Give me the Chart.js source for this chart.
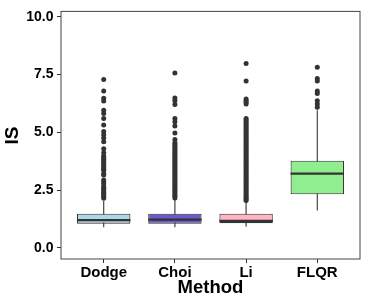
<!DOCTYPE html>
<html>
<head>
<meta charset="utf-8">
<style>
html,body{margin:0;padding:0;background:#fff;}
#wrap{width:366px;height:305px;}
</style>
<script src="https://cdn.jsdelivr.net/npm/chart.js@4/dist/chart.umd.min.js"></script>
</head>
<body>
<div id="wrap"><canvas id="c" width="366" height="305"></canvas></div>
<script>
const categories = ['Dodge', 'Choi', 'Li', 'FLQR'];
const whiskerLow  = [0.89, 0.89, 0.92, 1.62];
const q1          = [1.05, 1.05, 1.07, 2.32];
const medians     = [1.20, 1.22, 1.17, 3.21];
const q3          = [1.48, 1.48, 1.48, 3.77];
const whiskerHigh = [2.03, 2.08, 2.00, 5.95];
const outliersDodge = [7.29, 6.79, 6.47, 6.35, 5.95, 5.81, 5.60, 5.32, 5.04, 4.89, 4.75, 4.59,
  4.29, 4.12, 3.98, 3.91, 3.84, 3.77, 3.70, 3.63, 3.55, 3.48, 3.40, 3.35, 3.21, 3.15,
  2.94, 2.85, 2.77, 2.65, 2.58, 2.50, 2.43, 2.36, 2.29, 2.22, 2.15];
const outliersChoi = [7.57, 6.49, 6.37, 6.20, 5.60, 5.46, 5.27, 4.97, 4.69, 4.55, 4.47, 4.40,
  4.33, 4.26, 4.19, 4.12, 4.05, 3.98, 3.91, 3.84, 3.77, 3.70, 3.63, 3.56, 3.49, 3.42,
  3.35, 3.28, 3.21, 3.14, 3.07, 3.00, 2.93, 2.86, 2.79, 2.72, 2.65, 2.58, 2.51, 2.44,
  2.37, 2.30, 2.23, 2.16];
const outliersLi = [7.98, 7.22, 6.44, 6.37, 6.30, 6.23, 5.60, 5.53, 5.46, 5.39, 5.32, 5.25,
  5.18, 5.11, 5.04, 4.97, 4.90, 4.83, 4.76, 4.69, 4.62, 4.55, 4.48, 4.41, 4.34, 4.27,
  4.20, 4.13, 4.06, 3.99, 3.92, 3.85, 3.78, 3.71, 3.64, 3.57, 3.50, 3.43, 3.36, 3.29,
  3.22, 3.15, 3.08, 3.01, 2.94, 2.87, 2.80, 2.73, 2.66, 2.59, 2.52, 2.45, 2.38, 2.31,
  2.24, 2.17, 2.10, 2.05];
const outliersFLQR = [7.82, 7.33, 7.22, 6.79, 6.68, 6.37, 6.23, 6.09];
const outliers = [outliersDodge, outliersChoi, outliersLi, outliersFLQR];
const yTicks = [0, 2.5, 5, 7.5, 10];
const boxColors = ['#ADD8E6', '#6A5ACD', '#FFB6C1', '#90EE90'];

const BOX_WIDTH = 0.75;
const INK = '#333333';
const FONT = '"Liberation Sans", Arial, Helvetica, sans-serif';

const datasets = [];
// whiskers (drawn first)
categories.forEach((c, i) => {
  datasets.push({
    type: 'line', order: 4,
    data: [{x: i, y: whiskerLow[i]}, {x: i, y: whiskerHigh[i]}],
    borderColor: INK, borderWidth: 1.1, pointRadius: 0, fill: false, tension: 0
  });
});
// boxes
datasets.push({
  type: 'bar', order: 3,
  data: categories.map((c, i) => ({x: i, y: [q1[i], q3[i]]})),
  backgroundColor: boxColors, borderColor: INK, borderWidth: 1.1, borderSkipped: false,
  categoryPercentage: 1, barPercentage: BOX_WIDTH
});
// medians
categories.forEach((c, i) => {
  datasets.push({
    type: 'line', order: 2,
    data: [{x: i - BOX_WIDTH / 2, y: medians[i]}, {x: i + BOX_WIDTH / 2, y: medians[i]}],
    borderColor: INK, borderWidth: 2.3, pointRadius: 0, fill: false, tension: 0
  });
});
// outliers
datasets.push({
  type: 'scatter', order: 1,
  data: outliers.flatMap((arr, i) => arr.map(v => ({x: i, y: v}))),
  backgroundColor: INK, borderWidth: 0, pointRadius: 2.5
});

const panelBorder = {
  id: 'panelBorder',
  afterDraw(chart) {
    const a = chart.chartArea, ctx = chart.ctx;
    ctx.save();
    ctx.strokeStyle = '#444';
    ctx.lineWidth = 1;
    ctx.strokeRect(a.left, a.top - 0.5, a.right - a.left, a.bottom - a.top + 0.5);
    ctx.restore();
  }
};

new Chart(document.getElementById('c'), {
  type: 'bar',
  data: { datasets },
  plugins: [panelBorder],
  options: {
    responsive: false,
    animation: false,
    layout: { padding: { top: 6, right: 6, left: 0, bottom: 0 } },
    plugins: { legend: { display: false }, tooltip: { enabled: false } },
    scales: {
      x: {
        type: 'linear', min: -0.6, max: 3.6, offset: false,
        afterBuildTicks: s => { s.ticks = categories.map((c, i) => ({value: i})); },
        afterFit: s => { s.height = 46; },
        ticks: {
          callback: v => categories[v] ?? '',
          color: '#000', padding: 1, maxRotation: 0, autoSkip: false,
          font: { family: FONT, size: 15, weight: 'bold' }
        },
        grid: { offset: false, drawOnChartArea: false, drawTicks: true, tickLength: 4, color: INK },
        border: { display: false },
        title: {
          display: true, text: 'Method', color: '#000',
          font: { family: FONT, size: 18.5, weight: 'bold' },
          padding: { top: 0, bottom: 6 }
        }
      },
      y: {
        type: 'linear', min: -0.48, max: 10.21,
        afterBuildTicks: s => { s.ticks = yTicks.map(v => ({value: v})); },
        afterFit: s => { s.width = 61; },
        ticks: {
          callback: v => Number(v).toFixed(1),
          color: '#000', padding: 3.5,
          font: { family: FONT, size: 14, weight: 'bold' }
        },
        grid: { offset: false, drawOnChartArea: false, drawTicks: true, tickLength: 4, color: INK },
        border: { display: false },
        title: {
          display: true, text: 'IS', color: '#000',
          font: { family: FONT, size: 19, weight: 'bold' },
          padding: { top: 1, bottom: 0 }
        }
      }
    }
  }
});
</script>
</body>
</html>
